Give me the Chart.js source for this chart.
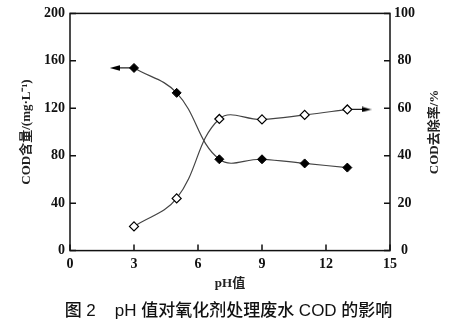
<!DOCTYPE html>
<html>
<head>
<meta charset="utf-8">
<script src="https://cdn.jsdelivr.net/npm/chart.js@4"></script>
<style>
  body { margin: 0; background: #fff; }
</style>
</head>
<body>
<canvas id="codChart" width="457" height="334"></canvas>
<script>
// pH values
var phValues = [3, 5, 7, 9, 11, 13];
// COD content, mg/L (left axis)
var codContent = [154, 133, 77, 77, 73.5, 70];
// COD removal, % (right axis)
var codRemoval = [10.2, 22, 55.5, 55.3, 57.2, 59.5];
// arrow ends pointing at each series' axis
var codArrow = [[3, 154], [2.1, 154]];
var removalArrow = [[13, 59.5], [13.9, 59.5]];

var serif = "'Liberation Serif', 'Times New Roman', 'Noto Sans CJK SC', serif";

function toPoints(xs, ys) {
    return xs.map(function(x, i) { return { x: x, y: ys[i] }; });
}
function pairPoints(pairs) {
    return pairs.map(function(p) { return { x: p[0], y: p[1] }; });
}

// slim arrowhead used as point style
function arrowHead(dir) {
    var c = document.createElement('canvas');
    c.width = 10; c.height = 6;
    var g = c.getContext('2d');
    g.fillStyle = '#000';
    g.beginPath();
    if (dir < 0) {
        g.moveTo(0, 3); g.lineTo(10, 0.3); g.lineTo(10, 5.7);
    } else {
        g.moveTo(10, 3); g.lineTo(0, 0.3); g.lineTo(0, 5.7);
    }
    g.closePath();
    g.fill();
    return c;
}

// frame, inward ticks, right title read bottom-to-top
var frameTicks = {
    id: 'frameTicks',
    afterDraw: function(chart) {
        var ctx = chart.ctx;
        var a = chart.chartArea;
        var len = 6;
        ctx.save();
        ctx.strokeStyle = '#111';
        ctx.lineWidth = 1.5;
        ctx.strokeRect(a.left, a.top, a.right - a.left, a.bottom - a.top);
        ctx.beginPath();
        chart.scales.x.ticks.forEach(function(t) {
            var px = chart.scales.x.getPixelForValue(t.value);
            ctx.moveTo(px, a.bottom);
            ctx.lineTo(px, a.bottom - len);
        });
        chart.scales.y.ticks.forEach(function(t) {
            var py = chart.scales.y.getPixelForValue(t.value);
            ctx.moveTo(a.left, py);
            ctx.lineTo(a.left + len, py);
        });
        chart.scales.y1.ticks.forEach(function(t) {
            var py = chart.scales.y1.getPixelForValue(t.value);
            ctx.moveTo(a.right, py);
            ctx.lineTo(a.right - len, py);
        });
        ctx.stroke();

        var s = chart.scales.y1;
        ctx.translate(s.right - 22, (a.top + a.bottom) / 2);
        ctx.rotate(-Math.PI / 2);
        ctx.fillStyle = '#222';
        ctx.font = 'bold 13px ' + serif;
        ctx.textAlign = 'center';
        ctx.textBaseline = 'middle';
        ctx.fillText('COD去除率/%', 0, 0);
        ctx.restore();
    }
};

var ctx = document.getElementById('codChart').getContext('2d');
var chart = new Chart(ctx, {
    type: 'line',
    data: {
        datasets: [{
            label: 'COD含量',
            data: toPoints(phValues, codContent),
            yAxisID: 'y',
            borderColor: '#444',
            borderWidth: 1.2,
            tension: 0.4,
            pointStyle: 'rectRot',
            pointRadius: 4.5,
            pointBackgroundColor: '#000',
            pointBorderColor: '#000',
            pointBorderWidth: 1
        }, {
            label: 'COD去除率',
            data: toPoints(phValues, codRemoval),
            yAxisID: 'y1',
            borderColor: '#444',
            borderWidth: 1.2,
            tension: 0.4,
            pointStyle: 'rectRot',
            pointRadius: 4.5,
            pointBackgroundColor: '#fff',
            pointBorderColor: '#000',
            pointBorderWidth: 1.2
        }, {
            data: pairPoints(codArrow),
            yAxisID: 'y',
            borderColor: '#222',
            borderWidth: 1.2,
            pointStyle: [false, arrowHead(-1)],
            pointRadius: [0, 5]
        }, {
            data: pairPoints(removalArrow),
            yAxisID: 'y1',
            borderColor: '#222',
            borderWidth: 1.2,
            pointStyle: [false, arrowHead(1)],
            pointRadius: [0, 5]
        }]
    },
    options: {
        responsive: false,
        animation: false,
        layout: { padding: { top: 12, left: 0, right: 0, bottom: 0 } },
        plugins: {
            legend: { display: false },
            tooltip: { enabled: false },
            title: {
                display: true,
                position: 'bottom',
                text: '图 2    pH 值对氧化剂处理废水 COD 的影响',
                color: '#111',
                font: { family: "'Liberation Sans', 'Noto Sans CJK SC', sans-serif", size: 17, weight: 500 },
                padding: { top: 5, bottom: 12 }
            }
        },
        scales: {
            x: {
                type: 'linear',
                min: 0,
                max: 15,
                ticks: { stepSize: 3, color: '#111', padding: 5, font: { family: serif, size: 14, weight: 'bold' } },
                grid: { display: false, drawTicks: false },
                border: { display: false },
                title: { display: true, text: 'pH值', color: '#222', padding: { top: 4, bottom: 5 }, font: { family: serif, size: 13, weight: 'bold' } },
                afterFit: function(s) { s.height = 46; }
            },
            y: {
                position: 'left',
                min: 0,
                max: 200,
                ticks: { stepSize: 40, color: '#111', padding: 5, font: { family: serif, size: 14, weight: 'bold' } },
                grid: { display: false, drawTicks: false },
                border: { display: false },
                title: { display: true, text: 'COD含量/(mg·L⁻¹)', color: '#222', padding: { top: 19, bottom: 19 }, font: { family: serif, size: 13, weight: 'bold' } },
                afterFit: function(s) { s.width = 70; }
            },
            y1: {
                position: 'right',
                min: 0,
                max: 100,
                ticks: { stepSize: 20, color: '#111', padding: 4, crossAlign: 'center', font: { family: serif, size: 14, weight: 'bold' } },
                grid: { display: false, drawTicks: false },
                border: { display: false },
                afterFit: function(s) { s.width = 67; }
            }
        }
    },
    plugins: [frameTicks]
});
</script>
</body>
</html>
